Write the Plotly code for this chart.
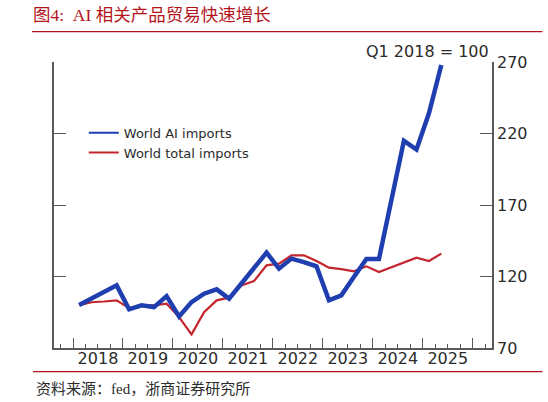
import pandas as pd
import plotly.graph_objects as go

quarters = ["2018Q1", "2018Q2", "2018Q3", "2018Q4",
            "2019Q1", "2019Q2", "2019Q3", "2019Q4",
            "2020Q1", "2020Q2", "2020Q3", "2020Q4",
            "2021Q1", "2021Q2", "2021Q3", "2021Q4",
            "2022Q1", "2022Q2", "2022Q3", "2022Q4",
            "2023Q1", "2023Q2", "2023Q3", "2023Q4",
            "2024Q1", "2024Q2", "2024Q3", "2024Q4",
            "2025Q1", "2025Q2"]

ai_imports = [100, 104.8, 109.8, 113.8, 97, 99.8, 98.6, 106.3, 92, 102.1,
              108, 111, 104.5, 115, 125, 136.7, 125.5, 132.5, 130.1, 127.1,
              103.3, 106.8, 119.6, 132.2, 132.2, 172.4, 214.9, 208.8, 234.1, 267.9]

total_imports = [100, 102, 102.5, 103.3, 97.9, 99.8, 99.8, 101, 91.6, 79.5,
                 95.1, 103.3, 105.2, 113.8, 116.8, 127.8, 129, 134.8, 134.8, 130.8,
                 126.2, 125.2, 123.6, 127.1, 123.1, 126.5, 129.9, 133.2, 130.8, 136]

y_ticks = [70, 120, 170, 220, 270]

# quarter mid-points as dates
periods = pd.PeriodIndex(quarters, freq="Q")
x_dates = [p.start_time + (p.end_time - p.start_time) / 2 for p in periods]

BLUE = "#1f3fb0"
RED = "#c4262e"
AXIS = "#5a5a5a"
TXT = "#2b2b2b"
FONT = "DejaVu Sans, Liberation Sans, Arial, sans-serif"
CJK = "Liberation Serif, Noto Sans CJK SC, serif"

fig = go.Figure()
fig.add_trace(go.Scatter(x=x_dates, y=total_imports, mode="lines",
                         line=dict(color=RED, width=2.2), showlegend=False,
                         name="World total imports"))
fig.add_trace(go.Scatter(x=x_dates, y=ai_imports, mode="lines",
                         line=dict(color=BLUE, width=4.5), showlegend=False,
                         name="World AI imports"))
# legend entries (thin sample lines as in reference)
fig.add_trace(go.Scatter(x=[None], y=[None], mode="lines",
                         line=dict(color=BLUE, width=2), name="World AI imports"))
fig.add_trace(go.Scatter(x=[None], y=[None], mode="lines",
                         line=dict(color=RED, width=2), name="World total imports"))

fig.update_layout(
    width=548, height=402, autosize=False,
    margin=dict(l=54, r=55.5, t=62, b=54),
    paper_bgcolor="white", plot_bgcolor="white",
    font=dict(family=FONT, size=15, color=TXT),
    showlegend=True,
    legend=dict(x=0.068, y=0.805, xanchor="left", yanchor="top",
                bgcolor="rgba(0,0,0,0)", font=dict(size=13, color=TXT),
                tracegroupgap=0, itemwidth=30),
    title=dict(text="图4:  AI 相关产品贸易快速增长", x=33 / 548, xanchor="left",
               y=1 - 15 / 402, yanchor="middle", yref="container", xref="container",
               font=dict(family=CJK, size=17.5, color="#b3141c")),
)

fig.update_xaxes(
    type="date",
    range=["2017-08-15", "2026-05-22"],
    tick0="2018-01-01", dtick="M12", tickformat="%Y", ticklabelmode="period",
    ticks="inside", ticklen=10, tickwidth=1.3, tickcolor=AXIS,
    minor=dict(dtick="M3", tick0="2018-01-01", ticks="inside", ticklen=4,
               tickwidth=1.3, tickcolor=AXIS, showgrid=False),
    showline=True, linecolor=AXIS, linewidth=1.6, mirror=False,
    showgrid=False, zeroline=False, ticklabelstandoff=-5,
    tickfont=dict(family=FONT, size=16, color=TXT),
)
fig.update_yaxes(
    range=[70, 270], side="right", tickvals=y_ticks,
    ticks="inside", ticklen=12, tickwidth=1.3, tickcolor=AXIS,
    showline=True, linecolor=AXIS, linewidth=1.6, mirror="ticks",
    showgrid=False, zeroline=False,
    tickfont=dict(family=FONT, size=16, color=TXT),
)

fig.add_annotation(text="Q1 2018 = 100", xref="paper", yref="paper",
                   x=0.998, y=(348 - 52) / 286, xanchor="right", yanchor="middle",
                   showarrow=False, font=dict(family=FONT, size=16, color=TXT))
fig.add_annotation(text="资料来源：fed，浙商证券研究所", xref="paper", yref="paper",
                   x=(34 - 54) / 438.5, y=(348 - 389) / 286, xanchor="left", yanchor="middle",
                   showarrow=False, font=dict(family=CJK, size=15, color=TXT))

# decorative red rules of the figure frame
fig.add_shape(type="line", xref="paper", yref="paper",
              x0=(32 - 54) / 438.5, x1=(543 - 54) / 438.5,
              y0=(348 - 31.7) / 286, y1=(348 - 31.7) / 286,
              line=dict(color="#b3141c", width=1.3))
fig.add_shape(type="line", xref="paper", yref="paper",
              x0=(33 - 54) / 438.5, x1=(543 - 54) / 438.5,
              y0=(348 - 371.7) / 286, y1=(348 - 371.7) / 286,
              line=dict(color="#b3141c", width=1.3))

fig.write_html("out.html", config={"displayModeBar": False},
               post_script="document.body.style.margin='0';document.body.style.padding='0';")
